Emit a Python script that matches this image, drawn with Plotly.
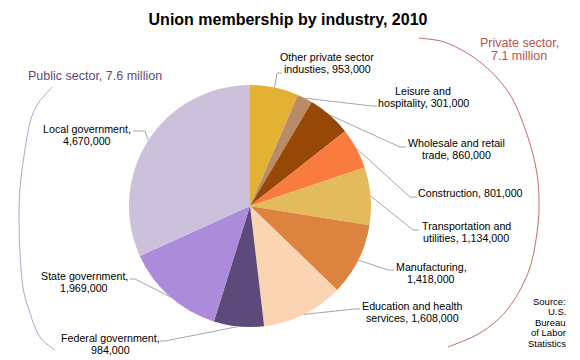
import plotly.graph_objects as go
import math

# ---- data ----
industries = [
    "Other private sector industries", "Leisure and hospitality",
    "Wholesale and retail trade", "Construction",
    "Transportation and utilities", "Manufacturing",
    "Education and health services", "Federal government",
    "State government", "Local government",
]
members = [953000, 301000, 860000, 801000, 1134000, 1418000,
           1608000, 984000, 1969000, 4670000]
label_lines = [
    ["Other private sector", "industies, {v}"],
    ["Leisure and", "hospitality, {v}"],
    ["Wholesale and retail", "trade, {v}"],
    ["Construction, {v}"],
    ["Transportation and", "utilities, {v}"],
    ["Manufacturing,", "{v}"],
    ["Education and health", "services, {v}"],
    ["Federal government,", "{v}"],
    ["State government,", "{v}"],
    ["Local government,", "{v}"],
]
colors = ["#E3B232", "#B98B67", "#974706", "#FA7B3E", "#E3BA5C",
          "#DC843F", "#FBD4B4", "#5E4A7A", "#AC8BDB", "#CCC1DA"]
public_label = "Public sector, 7.6 million"
private_label = ["Private sector,", "7.1 million"]
source_lines = ["Source:", "U.S.", "Bureau", "of Labor", "Statistics"]
title = "Union membership by industry, 2010"

# ---- layout helpers (pixel space) ----
W, H = 580, 360
CX, CY, R = 250, 206, 121
FONT = "Liberation Sans, Arial, sans-serif"


def P(x, y):
    return x / W, 1 - y / H


# label layout: (center x, first line y), leader elbow, leader end
label_pos = [(327, 57), (423, 91), (456, 143), (470, 193), (466, 226),
             (431, 267), (412, 306), (110, 338), (84, 276), (87, 129)]
elbows = [(277, 73), (372, 106), (400, 147), (410, 197), (413, 230),
          (388, 270), (355, 309), (165, 341), (135, 279), (145, 131)]
ends = [(282, 73), (377, 106), (406, 147), (417, 197), (419, 230),
        (394, 270), (360, 309), (160, 341), (130, 279), (133, 131)]
LINE_STEP = 11.7

fig = go.Figure(go.Pie(
    labels=industries, values=members, sort=False, direction="clockwise",
    rotation=0, marker=dict(colors=colors, line=dict(width=0)),
    textinfo="none", hoverinfo="skip", showlegend=False,
    domain=dict(x=[(CX - R) / W, (CX + R) / W],
                y=[1 - (CY + R) / H, 1 - (CY - R) / H]),
))

shapes = []
annotations = []
total = sum(members)
cum = 0
for i, v in enumerate(members):
    ang = math.radians((cum + v / 2) / total * 360)
    cum += v
    ex, ey = CX + R * math.sin(ang), CY - R * math.cos(ang)
    pts = [(ex, ey), elbows[i], ends[i]]
    path = "M " + " L ".join("%.5f,%.5f" % P(*p) for p in pts)
    shapes.append(dict(type="path", path=path, xref="paper", yref="paper",
                       line=dict(color="#A6A6A6", width=1)))
    lx, ly = label_pos[i]
    for j, line in enumerate(label_lines[i]):
        x, y = P(lx, ly + j * LINE_STEP)
        annotations.append(dict(
            text=line.format(v=f"{v:,}"), x=x, y=y, xref="paper", yref="paper",
            xanchor="center", yanchor="middle", showarrow=False,
            font=dict(family=FONT, size=10.7, color="#000000")))


def smooth_path(pts):
    d = "M %.5f,%.5f" % P(*pts[0])
    for k in range(len(pts) - 1):
        p0 = pts[k - 1] if k > 0 else pts[k]
        p1, p2 = pts[k], pts[k + 1]
        p3 = pts[k + 2] if k + 2 < len(pts) else pts[k + 1]
        c1 = (p1[0] + (p2[0] - p0[0]) / 6, p1[1] + (p2[1] - p0[1]) / 6)
        c2 = (p2[0] - (p3[0] - p1[0]) / 6, p2[1] - (p3[1] - p1[1]) / 6)
        d += " C %.5f,%.5f %.5f,%.5f %.5f,%.5f" % (*P(*c1), *P(*c2), *P(*p2))
    return d


right_arc = [(419, 38), (447, 43), (480, 62), (507, 90), (523, 123),
             (535, 163), (539, 197), (537, 233), (528, 273), (507, 310),
             (480, 333), (448, 347)]
left_arc = [(52, 87), (33, 113), (23, 163), (19, 213), (22, 280),
            (30, 313), (40, 337), (55, 350)]
shapes.append(dict(type="path", path=smooth_path(right_arc), xref="paper",
                   yref="paper", line=dict(color="#C46A67", width=1)))
shapes.append(dict(type="path", path=smooth_path(left_arc), xref="paper",
                   yref="paper", line=dict(color="#B3A5CC", width=1)))

# sector labels
x, y = P(95, 76)
annotations.append(dict(text=public_label, x=x, y=y, xref="paper", yref="paper",
                        xanchor="center", yanchor="middle", showarrow=False,
                        font=dict(family=FONT, size=12.5, color="#604A7B")))
for j, line in enumerate(private_label):
    x, y = P(519, 43 + j * 13)
    annotations.append(dict(text=line, x=x, y=y, xref="paper", yref="paper",
                            xanchor="center", yanchor="middle", showarrow=False,
                            font=dict(family=FONT, size=12.5, color="#C0504D")))
for j, line in enumerate(source_lines):
    x, y = P(568, 301 + j * 10.6)
    annotations.append(dict(text=line, x=x, y=y, xref="paper", yref="paper",
                            xanchor="right", yanchor="middle", showarrow=False,
                            font=dict(family=FONT, size=9.5, color="#000000")))

tx, ty = P(288, 19)
fig.update_layout(
    width=W, height=H, autosize=False,
    margin=dict(l=0, r=0, t=0, b=0),
    paper_bgcolor="white", plot_bgcolor="white",
    title=dict(text="<b>" + title + "</b>", x=tx, y=ty, xanchor="center",
               yanchor="middle", xref="paper", yref="paper",
               font=dict(family=FONT, size=16, color="#000000")),
    shapes=shapes, annotations=annotations,
)

fig.write_html("out.html",
               config={"displayModeBar": False, "staticPlot": True},
               post_script="document.body.style.margin='0';"
                           "document.body.style.overflow='hidden';")
